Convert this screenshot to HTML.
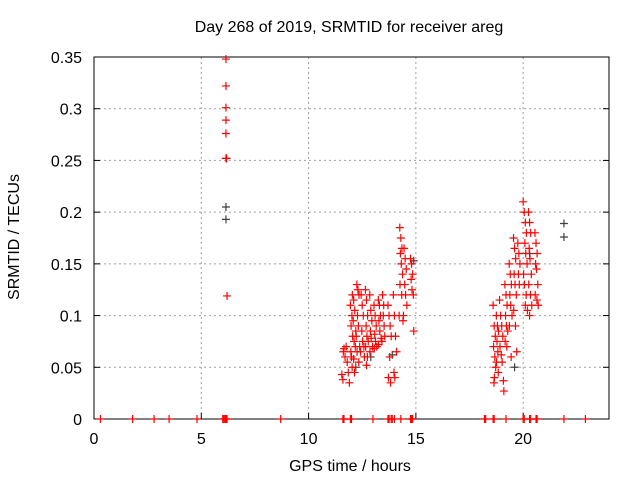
<!DOCTYPE html>
<html><head><meta charset="utf-8"><style>
body{margin:0;background:#fff}
svg{display:block;font-family:"Liberation Sans",sans-serif;font-size:16px}
</style></head><body>
<svg id="chart" width="640" height="480" viewBox="0 0 640 480">
<rect width="640" height="480" fill="#fff"/>
<text x="349" y="32" text-anchor="middle">Day 268 of 2019, SRMTID for receiver areg</text>
<text x="350" y="471" text-anchor="middle">GPS time / hours</text>
<text x="19" y="237" text-anchor="middle" transform="rotate(-90 19 237)">SRMTID / TECUs</text>
<g id="grid"></g><g id="axes"></g><g id="marks"></g>
</svg>
<script>
const xTicks=[0,5,10,15,20];
const yTicks=[0,0.05,0.1,0.15,0.2,0.25,0.3,0.35];
const yTickLabels=["0","0.05","0.1","0.15","0.2","0.25","0.3","0.35"];
// red series
const redT=[
0.3,1.8,2.8,3.5,4.8,6.0,6.05,6.1,6.15,6.2,8.7,11.6,11.65,11.95,12.0,13.0,13.7,13.75,13.85,13.9,14.0,14.3,14.75,14.8,14.85,18.2,18.25,18.6,18.65,19.2,20.0,20.05,20.3,20.35,20.6,20.65,21.9,22.9,
6.15,6.15,6.15,6.15,6.15,6.15,6.18,6.2,
11.55,11.6,11.62,11.65,11.7,11.75,11.8,11.85,11.9,
11.95,12.02,11.98,12.05,12.0,12.03,11.97,12.04,
12.1,12.15,12.08,12.2,12.12,12.18,12.1,12.14,
12.25,12.3,12.35,12.28,12.32,12.22,12.38,12.26,12.34,
12.45,12.5,12.55,12.48,12.52,12.58,12.42,12.6,
12.65,12.7,12.75,12.68,12.72,12.78,12.66,12.74,12.7,
12.85,12.9,12.95,12.88,12.92,12.98,12.86,
13.05,13.1,13.15,13.08,13.12,13.18,13.06,
13.25,13.3,13.35,13.28,13.32,13.38,13.26,
13.45,13.5,13.48,13.52,13.55,13.42,
13.7,13.75,13.8,13.85,13.78,13.72,13.82,
13.95,14.0,14.05,14.1,13.98,14.02,
14.25,14.3,14.35,14.28,14.32,14.38,14.26,14.34,14.22,14.4,
14.45,14.5,14.55,14.48,14.52,14.58,14.42,
14.75,14.8,14.85,14.78,14.82,14.88,14.9,
18.6,18.65,18.7,18.62,18.68,18.72,18.66,18.64,
18.75,18.8,18.85,18.78,18.82,18.76,18.84,
18.9,18.95,19.0,19.05,18.92,18.98,19.02,19.08,19.1,
19.15,19.2,19.25,19.18,19.22,19.28,19.16,19.24,
19.35,19.4,19.45,19.38,19.42,19.48,19.36,19.44,
19.55,19.6,19.65,19.58,19.62,19.68,19.56,19.64,19.7,
19.75,19.8,19.85,19.78,19.82,
20.0,20.05,20.1,20.15,20.08,20.12,20.18,20.02,20.06,20.14,20.1,20.2,
20.25,20.3,20.35,20.28,20.32,20.38,20.26,20.34,20.4,20.3,
20.55,20.6,20.65,20.58,20.62,20.68,20.56,20.64,20.7];
const redV=[
0,0,0,0,0,0,0,0,0,0,0,0,0,0,0,0,0,0,0,0,0,0,0,0,0,0,0,0,0,0,0,0,0,0,0,0,0,0,
0.348,0.322,0.301,0.289,0.276,0.252,0.252,0.119,
0.043,0.038,0.065,0.068,0.06,0.07,0.055,0.045,0.035,
0.11,0.1,0.09,0.08,0.06,0.05,0.065,0.12,
0.115,0.105,0.095,0.085,0.075,0.07,0.058,0.045,
0.13,0.125,0.12,0.1,0.09,0.08,0.07,0.065,0.055,
0.12,0.11,0.1,0.085,0.075,0.07,0.065,0.06,
0.125,0.115,0.1,0.09,0.08,0.075,0.07,0.06,0.052,
0.12,0.105,0.095,0.085,0.078,0.07,0.065,
0.11,0.1,0.09,0.082,0.075,0.07,0.068,
0.115,0.11,0.1,0.095,0.085,0.078,0.072,
0.12,0.11,0.1,0.09,0.08,0.075,
0.11,0.1,0.09,0.08,0.06,0.04,0.035,
0.12,0.1,0.08,0.065,0.045,0.04,
0.185,0.175,0.165,0.16,0.15,0.14,0.13,0.12,0.1,0.095,
0.165,0.155,0.145,0.13,0.12,0.11,0.1,
0.155,0.15,0.14,0.135,0.125,0.12,0.085,
0.11,0.09,0.08,0.07,0.06,0.05,0.04,0.035,
0.1,0.09,0.085,0.075,0.065,0.055,0.045,
0.115,0.1,0.09,0.08,0.07,0.062,0.055,0.037,0.027,
0.13,0.12,0.11,0.1,0.09,0.085,0.075,0.07,
0.15,0.14,0.13,0.12,0.11,0.1,0.09,0.06,
0.175,0.165,0.155,0.14,0.13,0.12,0.105,0.09,0.065,
0.17,0.16,0.15,0.14,0.13,
0.21,0.2,0.19,0.18,0.17,0.16,0.15,0.14,0.13,0.12,0.11,0.105,
0.2,0.19,0.18,0.165,0.155,0.14,0.13,0.12,0.11,0.1,
0.18,0.17,0.16,0.15,0.145,0.13,0.12,0.115,0.11];
// dark series
const darkT=[6.15,6.15,12.2,12.9,14.9,19.6,20.3,21.9,21.9,13.9];
const darkV=[0.205,0.193,0.05,0.06,0.153,0.05,0.16,0.189,0.176,0.062];

const L=94,R=609,T=57,B=419,xMax=24,yMax=0.35;
const xs=t=>L+t/xMax*(R-L);
const ys=v=>B-v/yMax*(B-T);
const NS="http://www.w3.org/2000/svg";
function mk(tag,attrs,parent){const e=document.createElementNS(NS,tag);for(const k in attrs)e.setAttribute(k,attrs[k]);parent.appendChild(e);return e;}
const grid=document.getElementById('grid'),axes=document.getElementById('axes'),marks=document.getElementById('marks');
xTicks.forEach((t,i)=>{
  const x=xs(t);
  if(t>0){const g=mk('line',{x1:x,x2:x,y1:T,y2:B,stroke:'#a0a0a0','stroke-dasharray':'2,3'},grid);
  
  }
  const tk=mk('line',{x1:x,x2:x,y1:B,y2:B-6,stroke:'#000'},axes);
  
  
  const tx=mk('text',{x:x,y:B+25,'text-anchor':'middle'},axes);tx.textContent=String(t);
  
  
});
yTicks.forEach((v,i)=>{
  const y=ys(v);
  if(v>0&&v<yMax){const g=mk('line',{x1:L,x2:R,y1:y,y2:y,stroke:'#a0a0a0','stroke-dasharray':'2,3'},grid);
  
  }
  const tk=mk('line',{x1:L,x2:L+6,y1:y,y2:y,stroke:'#000'},axes);
  
  
  const tk2=mk('line',{x1:R,x2:R-6,y1:y,y2:y,stroke:'#000'},axes);
  
  
  const tx=mk('text',{x:L-12,y:y+6,'text-anchor':'end'},axes);tx.textContent=yTickLabels[i];
  
  
});
const border=mk('rect',{x:L,y:T,width:R-L,height:B-T,fill:'none',stroke:'#000'},axes);


function plus(t,v,color,name){
  const x=xs(t),y=ys(v);
  const p=mk('path',{d:`M${x-4} ${y}H${x+4}M${x} ${y-4}V${y+4}`,stroke:color,'stroke-width':1.2,fill:'none'},marks);
  
  
}
darkT.forEach((t,i)=>plus(t,darkV[i],'#404040','srmtid-point-dark'));
redT.forEach((t,i)=>plus(t,redV[i],'#ff0000','srmtid-point'));
</script>
</body></html>
